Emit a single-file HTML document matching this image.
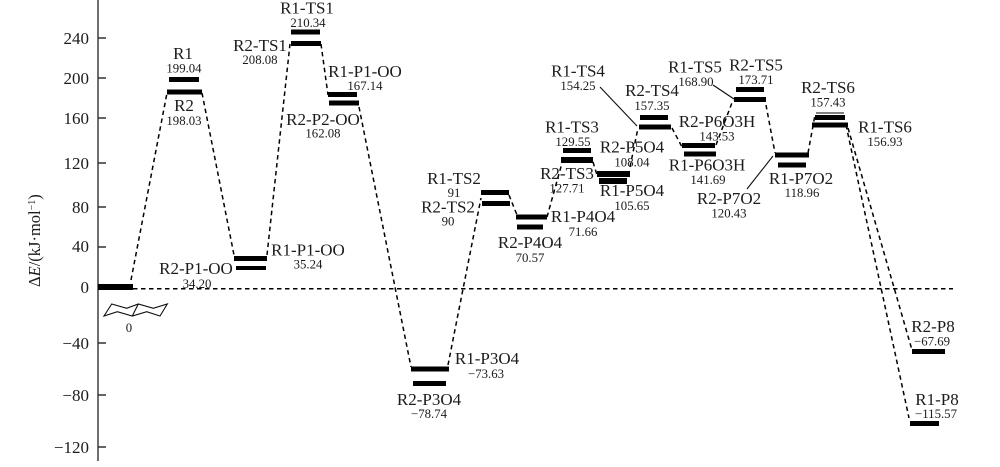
<!DOCTYPE html>
<html><head><meta charset="utf-8">
<style>
html,body{margin:0;padding:0;background:#fff}
svg{display:block}
text{font-family:"Liberation Serif",serif;fill:#1a1a1a}
.n{font-size:17px;text-anchor:middle}
.v{font-size:12.8px;text-anchor:middle}
.t{font-size:17px;text-anchor:end}
.d{stroke:#000;stroke-width:1.5;stroke-dasharray:4.5 3.5;fill:none}
.l{stroke:#111;stroke-width:1.1;fill:none}
.a{stroke:#333;stroke-width:1.4;fill:none}
</style></head><body>
<svg width="1000" height="467" viewBox="0 0 1000 467" xmlns="http://www.w3.org/2000/svg">
<defs><filter id="s" x="0" y="0" width="100%" height="100%"><feGaussianBlur stdDeviation="0.35"/></filter></defs>
<rect width="1000" height="467" fill="#fff"/>
<g filter="url(#s)">
<!-- axis -->
<path class="a" d="M98 0V461M98 38H106M98 78H106M98 118H106M98 163H106M98 207H106M98 247H106M98 343H106M98 395H106M98 447H106"/>
<text class="t" x="89" y="44">240</text>
<text class="t" x="89" y="84">200</text>
<text class="t" x="89" y="124">160</text>
<text class="t" x="89" y="169">120</text>
<text class="t" x="89" y="213">80</text>
<text class="t" x="89" y="252">40</text>
<text class="t" x="89" y="293">0</text>
<text class="t" x="89" y="349">−40</text>
<text class="t" x="89" y="401">−80</text>
<text class="t" x="89" y="453">−120</text>
<text transform="translate(40 287) rotate(-90)" font-size="16.5">Δ<tspan font-style="italic">E</tspan>/(kJ·mol<tspan font-size="10" dy="-5">−1</tspan><tspan dy="5">)</tspan></text>
<!-- dashed connectors -->
<path class="d" d="M133 288.700H953"/>
<path class="d" d="M131 280L167 93M202 93L234 255M267 255L290 44M321 44L328 95M359 107L411 367M448 365L481 198M509 195L517 215M547 217L562 163M593 162L597 175M630 167L638 128M672 128L682 147M716 145L733 100M766 105L775 153M808 153L815 115M848 128L912 350M846 125L909 418"/>
<!-- leader lines -->
<path class="l" d="M600 87L637 126M713 85L734 99M747 189L773 156"/>
<!-- level bars -->
<g fill="#000">
<rect x="98" y="284" width="35" height="6"/>
<rect x="169" y="77" width="30" height="5"/>
<rect x="167" y="89.500" width="35" height="5"/>
<rect x="291" y="29.500" width="29" height="5"/>
<rect x="291" y="41" width="30" height="5"/>
<rect x="328" y="92" width="29" height="5"/>
<rect x="329" y="100.500" width="30" height="5"/>
<rect x="234" y="256" width="33" height="5"/>
<rect x="236" y="266" width="30" height="4"/>
<rect x="411" y="366.500" width="38" height="5"/>
<rect x="413" y="381" width="33" height="5"/>
<rect x="481" y="190" width="28" height="5"/>
<rect x="482" y="201" width="28" height="5"/>
<rect x="516" y="214.500" width="31" height="5"/>
<rect x="517" y="224.500" width="26" height="5"/>
<rect x="563" y="148" width="28" height="5"/>
<rect x="561" y="157" width="32" height="6"/>
<rect x="597" y="171" width="33" height="6"/>
<rect x="599" y="178" width="28" height="6"/>
<rect x="640" y="115" width="28" height="5"/>
<rect x="639" y="124.500" width="32" height="5"/>
<rect x="682" y="143" width="33" height="5"/>
<rect x="684" y="151.500" width="32" height="5"/>
<rect x="736" y="87" width="28" height="5"/>
<rect x="734" y="97" width="32" height="5"/>
<rect x="775" y="152.500" width="34" height="5"/>
<rect x="778" y="162.500" width="28" height="5"/>
<rect x="815" y="115" width="30" height="5"/>
<rect x="816" y="112.500" width="28" height="1"/>
<rect x="812" y="122.500" width="36" height="5"/>
<rect x="912" y="349" width="33" height="5"/>
<rect x="910" y="421" width="29" height="5"/>
</g>
<!-- cyclohexane icon -->
<path d="M104 316L111.700 304L126.700 308.300L138.300 304L153.300 308.300L167.300 304L160 316L146.700 311.700L132.300 316L117.300 311.700ZM138.300 304L132.300 316" fill="none" stroke="#111" stroke-width="1.1"/>
<!-- labels -->
<text class="n" x="183" y="59">R1</text><text class="v" x="184" y="72.700">199.04</text>
<text class="n" x="184" y="111">R2</text><text class="v" x="184" y="125">198.03</text>
<text class="n" x="307" y="13.500">R1-TS1</text><text class="v" x="308" y="27">210.34</text>
<text class="n" x="260" y="51">R2-TS1</text><text class="v" x="260" y="64">208.08</text>
<text class="n" x="365" y="77">R1-P1-OO</text><text class="v" x="365" y="90">167.14</text>
<text class="n" x="323" y="125">R2-P2-OO</text><text class="v" x="323" y="137.700">162.08</text>
<text class="n" x="308" y="255.700">R1-P1-OO</text><text class="v" x="308" y="268.700">35.24</text>
<text class="n" x="196" y="274">R2-P1-OO</text><text class="v" x="197" y="288">34.20</text>
<text class="v" x="129" y="332">0</text>
<text class="n" x="487" y="364">R1-P3O4</text><text class="v" x="486" y="378">−73.63</text>
<text class="n" x="429" y="405">R2-P3O4</text><text class="v" x="429" y="418">−78.74</text>
<text class="n" x="454" y="184">R1-TS2</text><text class="v" x="454" y="197">91</text>
<text class="n" x="448" y="212.700">R2-TS2</text><text class="v" x="448" y="225.700">90</text>
<text class="n" x="583" y="222">R1-P4O4</text><text class="v" x="583" y="236">71.66</text>
<text class="n" x="530" y="248">R2-P4O4</text><text class="v" x="530" y="262">70.57</text>
<text class="n" x="572" y="132.700">R1-TS3</text><text class="v" x="573" y="146">129.55</text>
<text class="n" x="567" y="179">R2-TS3</text><text class="v" x="567" y="192.700">127.71</text>
<text class="n" x="632" y="152.700">R2-P5O4</text><text class="v" x="632" y="166.700">108.04</text>
<text class="n" x="632" y="196">R1-P5O4</text><text class="v" x="632" y="210">105.65</text>
<text class="n" x="578" y="76.700">R1-TS4</text><text class="v" x="578" y="90">154.25</text>
<text class="n" x="652" y="96">R2-TS4</text><text class="v" x="652" y="110">157.35</text>
<text class="n" x="695" y="72.700">R1-TS5</text><text class="v" x="696" y="86">168.90</text>
<text class="n" x="756" y="70.700">R2-TS5</text><text class="v" x="756" y="84">173.71</text>
<text class="n" x="717" y="127">R2-P6O3H</text><text class="v" x="717" y="140.700">143.53</text>
<text class="n" x="707" y="170.700">R1-P6O3H</text><text class="v" x="708" y="184">141.69</text>
<text class="n" x="801" y="184">R1-P7O2</text><text class="v" x="802" y="197">118.96</text>
<text class="n" x="729" y="204">R2-P7O2</text><text class="v" x="729" y="217.700">120.43</text>
<text class="n" x="828" y="93">R2-TS6</text><text class="v" x="828" y="106.700">157.43</text>
<text class="n" x="885" y="132.700">R1-TS6</text><text class="v" x="885" y="146">156.93</text>
<text class="n" x="933" y="332">R2-P8</text><text class="v" x="932" y="345.700">−67.69</text>
<text class="n" x="937" y="405">R1-P8</text><text class="v" x="936" y="418">−115.57</text>
</g>
</svg>
</body></html>
